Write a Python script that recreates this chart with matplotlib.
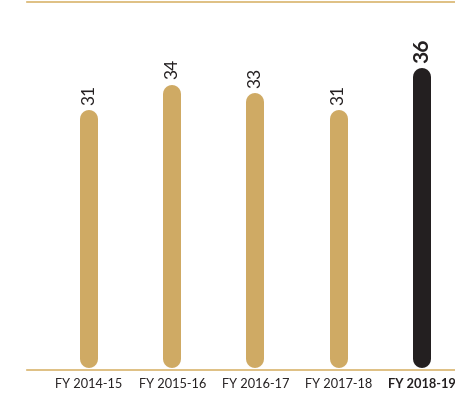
import matplotlib.pyplot as plt

years = ["FY 2014-15", "FY 2015-16", "FY 2016-17", "FY 2017-18", "FY 2018-19"]
values = [31, 34, 33, 31, 36]

GOLD = "#cfaa64"
BLACK = "#231f20"
LINE = "#d9b56e"

plt.rcParams["font.family"] = ["Lato", "DejaVu Sans"]

fig = plt.figure(figsize=(4.56, 3.94), dpi=100)
ax = fig.add_axes([27 / 456, 24 / 394, 429 / 456, 368 / 394])

ax.set_xlim(-0.745, 4.41)
ax.set_ylim(0, 43.9)

# rounded bars: thick lines with round caps, trimmed by the cap radius
px_per_unit = 368 / 43.9
radius = 9 / px_per_unit
lw = 18 * 72 / 100
for i, v in enumerate(values):
    last = i == len(values) - 1
    color = BLACK if last else GOLD
    ax.plot([i, i], [radius + 0.2, v - radius], color=color, lw=lw,
            solid_capstyle="round")
    ax.annotate(str(v), (i, v), xytext=(0, 4), textcoords="offset points",
                rotation=90, ha="center", va="bottom",
                fontsize=15 if last else 12.5,
                fontweight="bold" if last else "normal", color="#231f20")

ax.set_xticks(range(len(years)))
ax.set_xticklabels(years, fontsize=9.2, color="#231f20")
ax.get_xticklabels()[-1].set_fontweight("bold")
ax.tick_params(axis="x", length=0, pad=6)
ax.set_yticks([])

for side in ["left", "right"]:
    ax.spines[side].set_visible(False)
for side in ["top", "bottom"]:
    ax.spines[side].set_color(LINE)
    ax.spines[side].set_linewidth(1.2)

fig.savefig("out.png", dpi=100)
